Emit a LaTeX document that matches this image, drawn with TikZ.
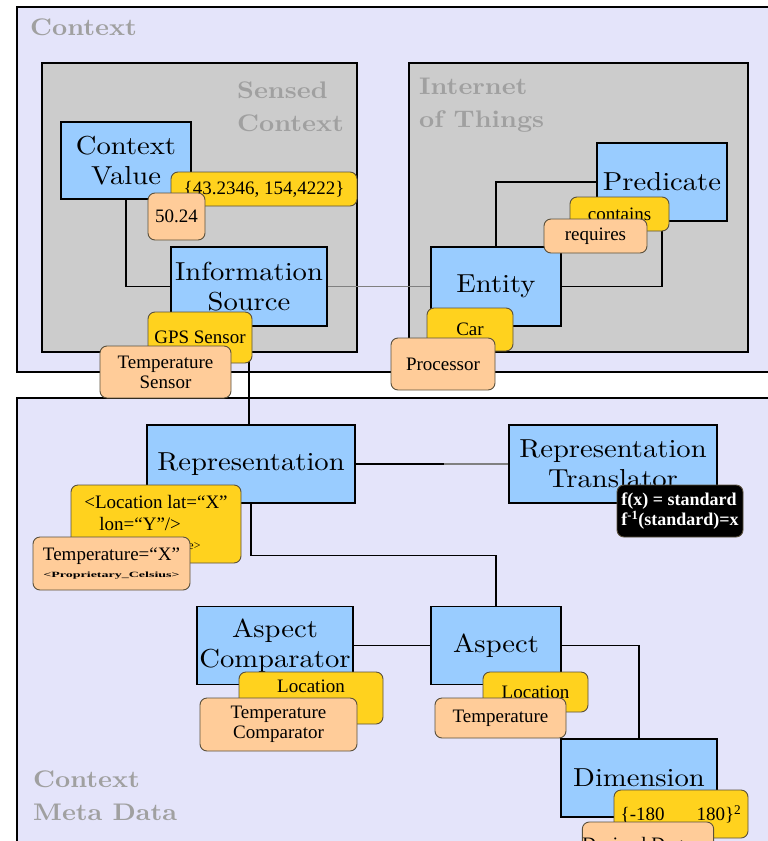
\documentclass[tikz,border=0pt]{standalone}
\usepackage{fontspec}
\usepackage{graphicx}
\usetikzlibrary{calc}
\newfontfamily\tagfont{Liberation Serif}
\newfontfamily\conceptfont{lmroman10-regular.otf}[FakeStretch=1.1]
\newfontfamily\headfont{lmroman10-bold.otf}[FakeStretch=1.1]
\definecolor{lav}{RGB}{228,228,250}
\definecolor{boxgray}{RGB}{204,204,204}
\definecolor{conceptblue}{RGB}{153,204,255}
\definecolor{tagyellow}{RGB}{255,210,30}
\definecolor{tagpeach}{RGB}{255,204,153}
\definecolor{headgray}{RGB}{160,160,160}
\definecolor{tagedge}{RGB}{90,80,60}
\newcommand{\tinylabel}[2]{\scalebox{#1}[1]{\fontsize{8}{9}\selectfont\bfseries #2}}
\begin{document}
\begin{tikzpicture}[x=1pt,y=-1pt,
  region/.style={draw=black, line width=1.3pt, fill=lav},
  group/.style={draw=black, line width=1.3pt, fill=boxgray},
  heading/.style={text=headgray, inner sep=0pt,
    font=\headfont\fontsize{24}{33}\selectfont},
  concept/.style={draw=black, line width=1.3pt, fill=conceptblue, inner sep=0pt,
    align=center, font=\conceptfont\fontsize{26}{30}\selectfont},
  tag/.style={draw=tagedge, line width=0.9pt, rounded corners=7pt, inner sep=0pt,
    align=center, font=\tagfont\fontsize{19}{20}\selectfont},
  ytag/.style={tag, fill=tagyellow},
  ptag/.style={tag, fill=tagpeach},
  btag/.style={tag, fill=black, text=white, align=left,
    font=\tagfont\bfseries\fontsize{18}{20}\selectfont},
  link/.style={draw=black, line width=1.3pt},
  glink/.style={draw=gray, line width=1.3pt},
]
\useasboundingbox (0,0) rectangle (768,841);
\clip (0,0) rectangle (768,841);

% outer regions and groups
\draw[region] (17,7) rectangle (800,372);
\draw[region] (17,398) rectangle (800,880);
\draw[group] (42,63) rectangle (357,352);
\draw[group] (409,63) rectangle (748,352);

\node[heading, anchor=west] (hctx) at (30,27) {Context};
\node[heading, anchor=west, align=left] (hsensed) at (237,107) {Sensed\\Context};
\node[heading, anchor=west, align=left] (hiot) at (419,105) {Internet\\of Things};
\node[heading, anchor=west, align=left] (hmeta) at (33,796) {Context\\Meta Data};

% concepts
\node[concept, minimum width=130pt, minimum height=77pt] (cv) at (126,160.5) {Context\\Value};
\node[concept, minimum width=156pt, minimum height=79pt] (is) at (249,286.5) {Information\\Source};
\node[concept, minimum width=130pt, minimum height=79pt] (ent) at (496,286.5) {Entity};
\node[concept, minimum width=130pt, minimum height=78pt] (pred) at (662,182) {Predicate};
\node[concept, minimum width=208pt, minimum height=78pt] (rep) at (251,464) {Representation};
\node[concept, minimum width=208pt, minimum height=78pt] (rt) at (613,464) {Representation\\Translator};
\node[concept, minimum width=156pt, minimum height=78pt] (ac) at (275,645.5) {Aspect\\Comparator};
\node[concept, minimum width=130pt, minimum height=78pt] (asp) at (496,645.5) {Aspect};
\node[concept, minimum width=156pt, minimum height=78pt] (dim) at (639,778) {Dimension};

% connectors between the concepts
\coordinate (repmid) at ($(rep.east)!0.58!(rt.west)$);
\draw[link] (cv.south) |- (is.west);
\draw[glink] (is.east) -- (ent.west);
\draw[link] (is.south) -- (is.south |- rep.north);
\draw[link] (ent.north) |- (pred.west);
\draw[link] (ent.east) -| (pred.south);
\draw[glink] (repmid) -- (rt.west);
\draw[link] (rep.east) -- (repmid);
\draw[link] (rep.south) -- ++(0,52) -| (asp.north);
\draw[link] (ac.east) -- (ac.east -| asp.west);
\draw[link] (asp.east) -| (dim.north);

% value tags
\node[ytag, minimum width=186pt, minimum height=34pt] (tcoord) at (264,189) {\{43.2346, 154,4222\}};
\node[ptag, minimum width=57pt, minimum height=47pt] (tval) at (176.5,216.5) {50.24};
\node[ytag, minimum width=104pt, minimum height=51pt] (tgps) at (200,337.5) {GPS Sensor};
\node[ptag, minimum width=131pt, minimum height=52pt] (ttemp) at (165.5,372) {Temperature\\Sensor};
\node[ytag, minimum width=99pt, minimum height=34pt] (tcont) at (619.5,214) {contains};
\node[ptag, minimum width=103pt, minimum height=34pt] (treq) at (595.5,236) {requires};
\node[ytag, minimum width=86pt, minimum height=43pt] (tcar) at (470,329.5) {Car};
\node[ptag, minimum width=104pt, minimum height=52pt] (tproc) at (443,364) {Processor};
\node[ytag, minimum width=170pt, minimum height=78pt, align=left,
  font=\tagfont\fontsize{19}{22}\selectfont] (tlocxml) at (156,524)
  {<Location lat=“X”\\\hspace*{15pt}lon=“Y”/>\\[-3pt]\hspace*{8pt}{\fontsize{12}{13}\selectfont <Proprietary\_Degree>}};
\node[ptag, minimum width=157pt, minimum height=53pt] (ttempxml) at (111.5,563.5)
  {Temperature=“X”\\[-3pt]\tinylabel{1.75}{<Proprietary\_Celsius>}};
\node[btag, minimum width=126pt, minimum height=52pt] (tfx) at (680,511)
  {f(x) = standard\\f\textsuperscript{-1}(standard)=x};
\node[ytag, minimum width=144pt, minimum height=52pt] (tlocc) at (311,698) {Location\\Comparator};
\node[ptag, minimum width=157pt, minimum height=53pt] (ttempc) at (278.5,724.5) {Temperature\\Comparator};
\node[ytag, minimum width=105pt, minimum height=40pt] (tloca) at (535.5,692) {Location};
\node[ptag, minimum width=131pt, minimum height=40pt] (ttempa) at (500.5,718) {Temperature};
\node[ytag, minimum width=134pt, minimum height=48pt] (trange) at (681,814)
  {\{-180\hspace{32pt}180\}\textsuperscript{2}};
\node[ptag, minimum width=128pt, minimum height=48pt] (tunit) at (648,846) {Decimal Degrees};
\end{tikzpicture}
\end{document}
